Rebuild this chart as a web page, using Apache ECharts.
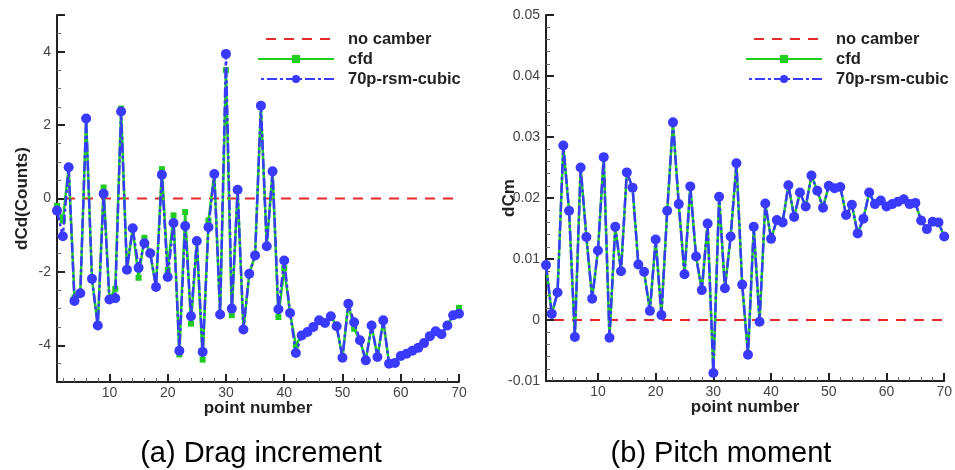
<!DOCTYPE html>
<html><head><meta charset="utf-8">
<script src="https://cdn.jsdelivr.net/npm/echarts@6/dist/echarts.min.js"></script>
<style>html,body{margin:0;padding:0;background:#fff}#c{width:955px;height:470px}</style>
</head><body><div id="c"></div>
<script>
const seriesNames = ['no camber', 'cfd', '70p-rsm-cubic'];
const xName = 'point number';
const yNames = ['dCd(Counts)', 'dCm'];
const captions = ['(a) Drag increment', '(b) Pitch moment'];
const xRange = [1, 70];
const dragRange = [-5, 5];
const pitchRange = [-0.01, 0.05];
const noCamber = [0, 0];

const dragRsm = [-0.33, -1.03, 0.85, -2.79, -2.58, 2.18, -2.19, -3.46, 0.13, -2.75,
  -2.72, 2.37, -1.94, -0.81, -1.89, -1.22, -1.49, -2.41, 0.65, -2.14,
  -0.67, -4.15, -0.75, -3.21, -1.16, -4.18, -0.78, 0.67, -3.16, 3.94,
  -3.0, 0.24, -3.57, -2.05, -1.55, 2.53, -1.3, 0.74, -3.02, -1.69,
  -3.12, -4.21, -3.73, -3.64, -3.5, -3.32, -3.39, -3.21, -3.48, -4.34,
  -2.87, -3.37, -3.86, -4.41, -3.46, -4.32, -3.32, -4.5, -4.48, -4.29,
  -4.23, -4.15, -4.07, -3.94, -3.75, -3.62, -3.7, -3.46, -3.18, -3.14];
const dragCfd = [-0.2, -0.6, 0.85, -2.7, -2.58, 2.18, -2.19, -3.46, 0.3, -2.75,
  -2.46, 2.45, -1.94, -0.81, -2.16, -1.07, -1.49, -2.41, 0.8, -1.95,
  -0.46, -4.25, -0.37, -3.41, -1.16, -4.39, -0.6, 0.67, -3.16, 3.5,
  -3.18, 0.24, -3.57, -2.05, -1.55, 2.53, -1.3, 0.74, -3.23, -1.9,
  -3.12, -4.0, -3.73, -3.64, -3.5, -3.32, -3.39, -3.21, -3.48, -4.34,
  -2.87, -3.55, -3.86, -4.41, -3.46, -4.32, -3.32, -4.5, -4.48, -4.29,
  -4.23, -4.15, -4.07, -3.94, -3.75, -3.62, -3.7, -3.46, -3.18, -2.98];
const pitchRsm = [0.009, 0.001, 0.0045, 0.0286, 0.0179, -0.0028, 0.025, 0.0136, 0.0035, 0.0114,
  0.0267, -0.0029, 0.0153, 0.008, 0.0242, 0.0217, 0.0091, 0.0079, 0.0015, 0.0132,
  0.0008, 0.0179, 0.0324, 0.019, 0.0075, 0.0219, 0.0104, 0.0049, 0.0158, -0.0087,
  0.0202, 0.0052, 0.0137, 0.0257, 0.0058, -0.0057, 0.0153, -0.0003, 0.0191, 0.0133,
  0.0164, 0.016, 0.0221, 0.0169, 0.0209, 0.0186, 0.0237, 0.0212, 0.0184, 0.022,
  0.0216, 0.0218, 0.0172, 0.0189, 0.0142, 0.0166, 0.0209, 0.019, 0.0196, 0.0186,
  0.019, 0.0194, 0.0198, 0.019, 0.0192, 0.0163, 0.0149, 0.0161, 0.016, 0.0137];
const pitchCfd = [0.009, 0.001, 0.0045, 0.0286, 0.0179, -0.0028, 0.025, 0.0136, 0.0035, 0.0114,
  0.0267, -0.0029, 0.0153, 0.008, 0.0242, 0.0217, 0.0091, 0.0079, 0.0015, 0.0132,
  0.0008, 0.0179, 0.0324, 0.019, 0.0075, 0.0219, 0.0104, 0.0049, 0.0158, -0.0087,
  0.0202, 0.0052, 0.0137, 0.0257, 0.0058, -0.0057, 0.0153, -0.0003, 0.0191, 0.0133,
  0.0164, 0.016, 0.0221, 0.0169, 0.0209, 0.0186, 0.0237, 0.0212, 0.0184, 0.022,
  0.0216, 0.0218, 0.0172, 0.0189, 0.0142, 0.0166, 0.0209, 0.019, 0.0196, 0.0186,
  0.019, 0.0194, 0.0198, 0.019, 0.0192, 0.0163, 0.0149, 0.0161, 0.016, 0.0137];

const FF = '"Liberation Sans", Arial, sans-serif';
const RED = '#e52a2a', GREEN = '#1fcc1f', BLUE = '#3a3aff';

function pairs(vals) { return vals.map((v, i) => [xRange[0] + i, v]); }

function seriesFor(gi, rsm, cfd) {
  return [
    { name: seriesNames[0], type: 'line', xAxisIndex: gi, yAxisIndex: gi, z: 1,
      data: [[xRange[0], noCamber[0]], [xRange[1], noCamber[1]]], symbol: 'none',
      lineStyle: { color: RED, width: 2, type: [10, 8], dashOffset: 10 }, itemStyle: { color: RED } },
    { name: seriesNames[1], type: 'line', xAxisIndex: gi, yAxisIndex: gi, z: 2,
      data: pairs(cfd), symbol: 'rect', symbolSize: 6, showAllSymbol: true,
      lineStyle: { color: GREEN, width: 2.5 }, itemStyle: { color: GREEN } },
    { name: seriesNames[2], type: 'line', xAxisIndex: gi, yAxisIndex: gi, z: 3,
      data: pairs(rsm), symbol: 'circle', symbolSize: 10, showAllSymbol: true,
      lineStyle: { color: BLUE, width: 2.5, type: [10, 3, 3, 3] }, itemStyle: { color: BLUE } }
  ];
}

function xAx(gi) {
  return { type: 'value', gridIndex: gi, min: xRange[0], max: xRange[1], splitNumber: 7,
    name: xName, nameLocation: 'middle', nameGap: 18, nameMoveOverlap: false,
    nameTextStyle: { fontFamily: FF, fontSize: 17, fontWeight: 'bold', color: '#222' },
    axisLine: { onZero: false, lineStyle: { color: '#222', width: 2 } },
    axisTick: { inside: true, length: 8, lineStyle: { color: '#222', width: 2 } },
    minorTick: { show: true, splitNumber: 5, length: 4, lineStyle: { color: '#666', width: 1 } },
    axisLabel: { showMinLabel: false, margin: 4, color: '#444', fontSize: 14, fontFamily: FF },
    splitLine: { show: false } };
}
function yAx(gi, range, split, minorSplit, hideEnds, gap) {
  return { type: 'value', gridIndex: gi, min: range[0], max: range[1], splitNumber: split,
    name: yNames[gi], nameLocation: 'middle', nameGap: gap, nameMoveOverlap: false,
    nameTextStyle: { fontFamily: FF, fontSize: 17, fontWeight: 'bold', color: '#222' },
    axisLine: { show: true, onZero: false, lineStyle: { color: '#222', width: 2 } },
    axisTick: { show: true, inside: true, length: 8, lineStyle: { color: '#222', width: 2 } },
    minorTick: { show: true, splitNumber: minorSplit, length: 4, lineStyle: { color: '#666', width: 1 } },
    axisLabel: { showMinLabel: !hideEnds, showMaxLabel: !hideEnds, margin: 6, color: '#444', fontSize: 14, fontFamily: FF },
    splitLine: { show: false } };
}
function legendAt(left) {
  return { left: left, top: 24, orient: 'vertical', itemWidth: 76, itemHeight: 10, itemGap: 0,
    selectedMode: false,
    data: [{ name: seriesNames[0], itemStyle: { opacity: 0 } }, seriesNames[1], seriesNames[2]],
    textStyle: { fontFamily: FF, fontSize: 16.5, fontWeight: 'bold', color: '#222', lineHeight: 20, padding: [0, 0, 0, 9] } };
}

const chart = echarts.init(document.getElementById('c'), null, { renderer: 'canvas' });
chart.setOption({
  animation: false,
  backgroundColor: '#fff',
  grid: [
    { left: 57, top: 15, width: 402, height: 367 },
    { left: 546, top: 15, width: 402, height: 366 }
  ],
  xAxis: [xAx(0), xAx(1)],
  yAxis: [yAx(0, dragRange, 5, 4, true, 26), yAx(1, pitchRange, 6, 5, false, 28)],
  legend: [legendAt(252), legendAt(740)],
  series: [...seriesFor(0, dragRsm, dragCfd), ...seriesFor(1, pitchRsm, pitchCfd)],
  graphic: [
    { type: 'text', style: { x: 261, y: 454, text: captions[0], align: 'center', verticalAlign: 'middle', fontSize: 29, fontFamily: FF, fill: '#000' } },
    { type: 'text', style: { x: 721, y: 454, text: captions[1], align: 'center', verticalAlign: 'middle', fontSize: 29, fontFamily: FF, fill: '#000' } }
  ]
});
</script></body></html>
